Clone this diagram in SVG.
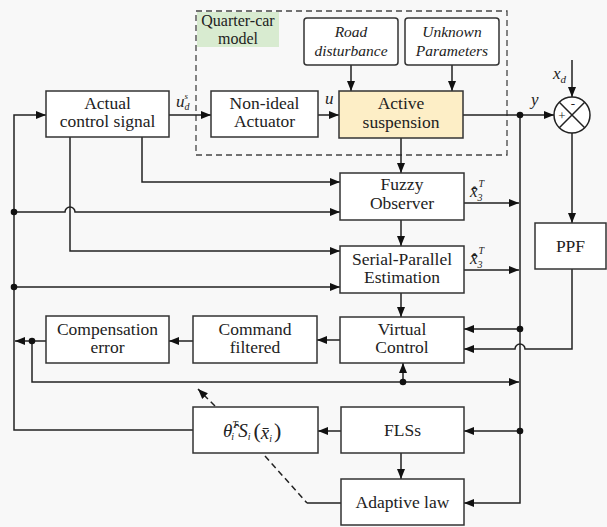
<svg xmlns="http://www.w3.org/2000/svg" width="607" height="527" viewBox="0 0 607 527" font-family="Liberation Serif, Times New Roman, serif">
<defs>
<marker id="ah" viewBox="0 0 10 10" refX="10" refY="5" markerWidth="10" markerHeight="10" markerUnits="userSpaceOnUse" orient="auto">
<path d="M0,1 L10,5 L0,9 Z" fill="#111"/>
</marker>
<style>
text{font-family:"Liberation Serif","Times New Roman",serif;fill:#222}
.t{font-size:17.5px;text-anchor:middle}
.it{font-style:italic}
.bx{fill:#fff;stroke:#333;stroke-width:1.5}
.ln{fill:none;stroke:#222;stroke-width:1.5}
.ar{fill:none;stroke:#222;stroke-width:1.5;marker-end:url(#ah)}
.dot{fill:#111}
</style>
</defs>
<rect width="607" height="527" fill="#f8f8f8"/>

<g id="quarter-car">
<rect x="196" y="11" width="311" height="144" fill="none" stroke="#444" stroke-width="1.3" stroke-dasharray="6,4"/>
<rect x="197" y="12" width="82" height="35" fill="#d8ebd0"/>
<text class="t" x="238" y="26" style="font-size:16px">Quarter-car</text>
<text class="t" x="238" y="44" style="font-size:16px">model</text>
</g>

<g id="connectors">
<path class="ar" d="M193,430 H14 V115 H46"/>
<path class="ar" d="M14,212 H65 A5,5 0 0 1 75,212 H340"/>
<path class="ar" d="M14,287 H340"/>
<path class="ar" d="M70,137 V251 H340"/>
<path class="ar" d="M142,137 V182 H340"/>
<path class="ar" d="M169,115 H211"/>
<path class="ar" d="M318,115 H339"/>
<path class="ar" d="M351,65 V91"/>
<path class="ar" d="M452,65 V91"/>
<path class="ar" d="M463,115 H554"/>
<path class="ar" d="M520,115 V503 H464"/>
<path class="ar" d="M572,60 V97"/>
<path class="ar" d="M572,133 V223"/>
<path class="ar" d="M572,269 V349 H525 A5,5 0 0 0 515,349 H464"/>
<path class="ar" d="M520,329 H464"/>
<path class="ar" d="M464,203 H519"/>
<path class="ar" d="M464,270 H519"/>
<path class="ar" d="M401,138 V173"/>
<path class="ar" d="M401,220 V246"/>
<path class="ar" d="M401,293 V317"/>
<path class="ar" d="M340,340 H317"/>
<path class="ar" d="M193,341 H169"/>
<path class="ar" d="M46,341 H15"/>
<path class="ar" d="M32,341 V382 H519"/>
<path class="ar" d="M403,382 V363"/>
<path class="ar" d="M520,431 H464"/>
<path class="ar" d="M341,431 H318"/>
<path class="ar" d="M401,453 V479"/>
<path class="ar" d="M215,406 L198,389" stroke-dasharray="6,4"/>
<path class="ln" d="M265,456 L307,503" stroke-dasharray="6,4"/>
<path class="ln" d="M307,503 H341"/>
<circle class="dot" cx="14" cy="212" r="3.3"/>
<circle class="dot" cx="14" cy="287" r="3.3"/>
<circle class="dot" cx="32" cy="341" r="3.3"/>
<circle class="dot" cx="520" cy="115" r="3.3"/>
<circle class="dot" cx="520" cy="329" r="3.3"/>
<circle class="dot" cx="520" cy="431" r="3.3"/>
<circle class="dot" cx="403" cy="382" r="3.3"/>
<text class="it" x="176" y="107" font-size="17">u<tspan font-size="10" dy="3">d</tspan><tspan font-size="9" dx="-5" dy="-11">s</tspan></text>
<text class="it" x="325" y="104" font-size="17">u</text>
<text class="it" x="531" y="105" font-size="17">y</text>
<text class="it" x="553" y="79" font-size="17">x<tspan font-size="11" dy="4">d</tspan></text>
<text class="it" x="470" y="197" font-size="17">x̄̂<tspan font-size="10" dy="4">3</tspan><tspan font-size="10" dx="-4" dy="-14">T</tspan></text>
<text class="it" x="470" y="264" font-size="17">x̄̂̂<tspan font-size="10" dy="4">3</tspan><tspan font-size="10" dx="-4" dy="-14">T</tspan></text>
</g>

<g id="actual-control-signal">
<rect class="bx" x="46" y="91" width="123" height="46"/>
<text class="t" x="107.5" y="109">Actual</text>
<text class="t" x="107.5" y="127">control signal</text>
</g>
<g id="non-ideal-actuator">
<rect class="bx" x="211" y="91" width="107" height="46"/>
<text class="t" x="264.5" y="109">Non-ideal</text>
<text class="t" x="264.5" y="127">Actuator</text>
</g>
<g id="road-disturbance">
<rect class="bx" x="304" y="18" width="94" height="47" rx="3"/>
<text class="t it" x="351" y="37" style="font-size:15.5px">Road</text>
<text class="t it" x="351" y="56" style="font-size:15.5px">disturbance</text>
</g>
<g id="unknown-parameters">
<rect class="bx" x="405" y="18" width="94" height="47" rx="3"/>
<text class="t it" x="452" y="37" style="font-size:15.5px">Unknown</text>
<text class="t it" x="452" y="56" style="font-size:15.5px">Parameters</text>
</g>
<g id="active-suspension">
<rect class="bx" x="339" y="91" width="124" height="47" style="fill:#fdeec6"/>
<text class="t" x="401" y="109">Active</text>
<text class="t" x="401" y="128">suspension</text>
</g>
<g id="sum">
<circle cx="572" cy="115" r="18" fill="#fff" stroke="#222" stroke-width="1.5"/>
<path class="ln" d="M559.3,102.3 L584.7,127.7 M584.7,102.3 L559.3,127.7"/>
<text class="t" x="573" y="108" style="font-size:13px">-</text>
<text class="t" x="562" y="120" style="font-size:13px">+</text>
</g>
<g id="fuzzy-observer">
<rect class="bx" x="340" y="173" width="124" height="47"/>
<text class="t" x="402" y="190">Fuzzy</text>
<text class="t" x="402" y="209">Observer</text>
</g>
<g id="serial-parallel">
<rect class="bx" x="340" y="246" width="124" height="47"/>
<text class="t" x="402" y="265">Serial-Parallel</text>
<text class="t" x="402" y="283">Estimation</text>
</g>
<g id="virtual-control">
<rect class="bx" x="340" y="317" width="124" height="46"/>
<text class="t" x="402" y="335">Virtual</text>
<text class="t" x="402" y="353">Control</text>
</g>
<g id="ppf">
<rect class="bx" x="535" y="223" width="71" height="46"/>
<text class="t" x="570.5" y="252">PPF</text>
</g>
<g id="compensation-error">
<rect class="bx" x="46" y="316" width="123" height="47"/>
<text class="t" x="107.5" y="335">Compensation</text>
<text class="t" x="107.5" y="353">error</text>
</g>
<g id="command-filtered">
<rect class="bx" x="193" y="316" width="124" height="47"/>
<text class="t" x="255" y="335">Command</text>
<text class="t" x="255" y="353">filtered</text>
</g>
<g id="theta-s">
<rect class="bx" x="193" y="407" width="125" height="46"/>
<text class="it" x="223" y="437" font-size="19">θ̂<tspan font-size="10" dy="-9">T</tspan><tspan font-size="10" dx="-6" dy="12">i</tspan><tspan dx="4" dy="-3">S</tspan><tspan font-size="10" dy="3">i</tspan><tspan font-style="normal" font-size="22" dx="3" dy="-2">(</tspan><tspan dy="1">x̄</tspan><tspan font-size="10" dy="3">i</tspan><tspan font-style="normal" font-size="22" dx="2" dy="-4">)</tspan></text>
</g>
<g id="flss">
<rect class="bx" x="341" y="407" width="123" height="46"/>
<text class="t" x="402.5" y="436">FLSs</text>
</g>
<g id="adaptive-law">
<rect class="bx" x="341" y="479" width="123" height="46"/>
<text class="t" x="402.5" y="508">Adaptive law</text>
</g>
</svg>
